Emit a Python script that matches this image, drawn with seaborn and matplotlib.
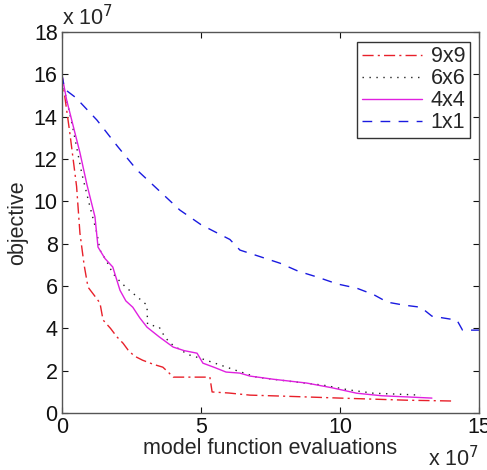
import pandas as pd
import matplotlib
matplotlib.use('Agg')
import matplotlib.pyplot as plt
import seaborn as sns

# values in units of 1e7
x_9x9 = [0, 0.1, 0.29, 0.53, 0.65, 0.8, 0.94, 1.2, 1.37, 1.48, 1.75, 1.98, 2.2, 2.38, 2.6, 2.9, 3.3, 3.63, 3.85, 4.0, 4.6, 5.32, 5.4, 6.0, 6.76, 8.0, 10.0, 11.2, 12.4, 13.3, 14.1]
y_9x9 = [16.0, 15.0, 13.2, 10.7, 8.5, 7.0, 5.95, 5.5, 5.2, 4.4, 4.0, 3.6, 3.3, 2.98, 2.7, 2.5, 2.3, 2.17, 1.9, 1.7, 1.7, 1.7, 1.0, 0.95, 0.85, 0.8, 0.71, 0.66, 0.61, 0.59, 0.57]

x_6x6 = [0, 0.1, 0.36, 0.72, 1.0, 1.26, 1.37, 1.6, 1.83, 2.1, 2.34, 2.7, 3.06, 3.08, 3.5, 3.7, 3.9, 4.3, 4.6, 4.96, 5.7, 6.3, 7.0, 8.2, 9.4, 10.3, 11.2, 12.0, 12.9]
y_6x6 = [16.0, 15.2, 13.7, 11.3, 9.8, 8.5, 7.7, 7.2, 6.6, 6.2, 5.9, 5.5, 5.1, 4.2, 4.06, 3.6, 3.3, 2.95, 2.74, 2.6, 2.27, 2.0, 1.7, 1.5, 1.32, 1.1, 0.94, 0.9, 0.85]

x_4x4 = [0, 0.17, 0.4, 0.65, 0.9, 1.19, 1.3, 1.55, 1.83, 2.09, 2.3, 2.55, 2.8, 3.06, 3.5, 4.0, 4.4, 4.86, 5.07, 5.5, 5.9, 6.4, 6.76, 7.6, 8.8, 9.7, 10.6, 11.5, 12.5, 13.3]
y_4x4 = [16.0, 14.8, 13.6, 12.3, 10.8, 9.27, 7.84, 7.3, 6.9, 5.8, 5.3, 5.0, 4.5, 4.06, 3.6, 3.12, 2.95, 2.83, 2.36, 2.15, 1.94, 1.89, 1.75, 1.6, 1.42, 1.2, 0.94, 0.82, 0.76, 0.71]

x_1x1 = [0, 0.1, 0.5, 1.26, 2.0, 2.7, 3.5, 4.24, 5.0, 6.04, 6.4, 7.1, 7.84, 8.5, 9.17, 9.9, 10.6, 11.2, 11.7, 12.3, 12.9, 13.3, 14.2, 14.4, 15.0]
y_1x1 = [16.0, 15.3, 14.9, 13.84, 12.6, 11.48, 10.5, 9.59, 8.9, 8.2, 7.7, 7.4, 7.08, 6.7, 6.43, 6.1, 5.9, 5.6, 5.24, 5.1, 5.0, 4.58, 4.39, 3.92, 3.92]

series = ["9x9", "6x6", "4x4", "1x1"]
colors = {"9x9": "#e8202a", "6x6": "#222222", "4x4": "#e020e0", "1x1": "#1a1ae0"}
dashes = {"9x9": (8, 3, 1.5, 3), "6x6": (1, 4), "4x4": "", "1x1": (7, 6)}

frames = []
for name, xs, ys in zip(series, [x_9x9, x_6x6, x_4x4, x_1x1], [y_9x9, y_6x6, y_4x4, y_1x1]):
    frames.append(pd.DataFrame({"evals": xs, "objective": ys, "grid": name}))
df = pd.concat(frames, ignore_index=True)

sns.set_style("ticks")
plt.rcParams['font.family'] = ['Liberation Sans', 'DejaVu Sans']
fs = 15.5

fig = plt.figure(figsize=(4.87, 4.70), dpi=100)
ax = fig.add_axes([0.127, 0.121, 0.857, 0.811])
sns.lineplot(data=df, x="evals", y="objective", hue="grid", style="grid",
             hue_order=series, style_order=series, palette=colors, dashes=dashes,
             sort=False, estimator=None, linewidth=1.0, ax=ax)

ax.set_xlim(0, 15)
ax.set_ylim(0, 18)
ax.set_xticks([0, 5, 10, 15])
ax.set_yticks(range(0, 19, 2))
ax.tick_params(direction="in", top=True, right=True, length=4, labelsize=fs, colors="#111111", pad=3)
for s in ax.spines.values():
    s.set_visible(True)
    s.set_color("#555555")
    s.set_linewidth(1.0)
ax.set_xlabel("model function evaluations", fontsize=fs, labelpad=0)
ax.set_ylabel("objective", fontsize=fs, labelpad=4)
ax.text(0.0, 1.005, r"x 10$^7$", transform=ax.transAxes, fontsize=fs, va="bottom", ha="left")
ax.text(1.0, -0.085, r"x 10$^7$", transform=ax.transAxes, fontsize=fs, va="top", ha="right")

leg = ax.legend(title=None, loc="upper right", fontsize=fs, fancybox=False,
                edgecolor="#333333", framealpha=1, handlelength=2.8, borderpad=0.2,
                labelspacing=0.05, handletextpad=0.4, borderaxespad=0,
                bbox_to_anchor=(0.977, 0.974))
leg.get_frame().set_linewidth(1.0)

fig.savefig("out.png", dpi=100)
plt.close()
